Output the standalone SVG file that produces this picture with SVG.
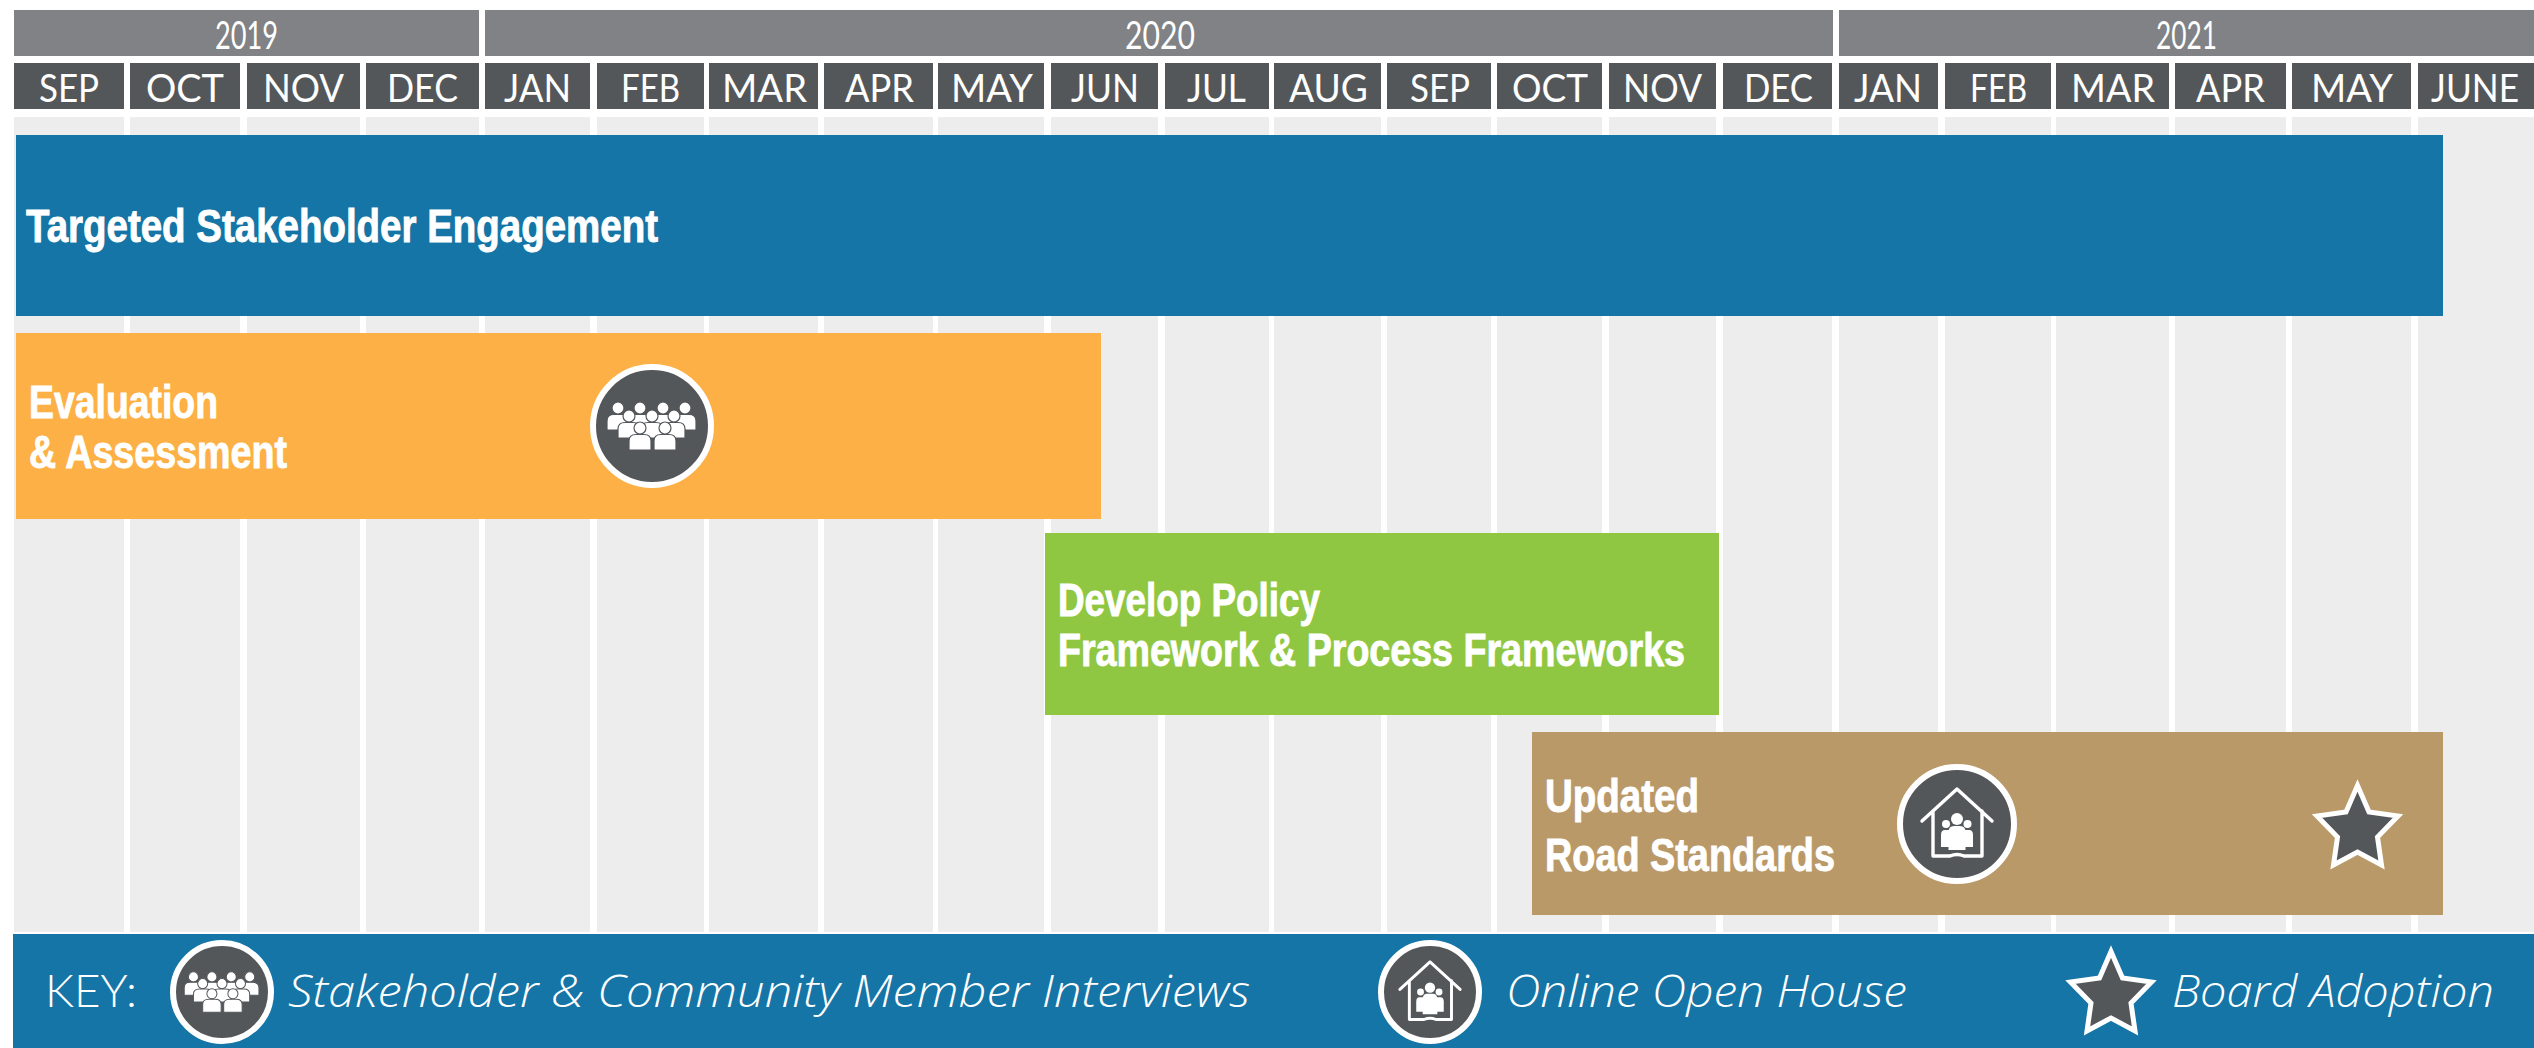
<svg xmlns="http://www.w3.org/2000/svg" xmlns:xlink="http://www.w3.org/1999/xlink" width="2534" height="1048" viewBox="0 0 2534 1048">
<style>
text{fill:#fff;font-family:"Lato","Liberation Sans",sans-serif}
.yr{fill:#808285}.mo{fill:#54575a}.col{fill:#ededed}
.ytx{font-size:38px;font-weight:400}
.mtx{font-size:39px;font-weight:400}
.bar{font-family:"Liberation Sans Narrow","Liberation Sans",sans-serif;font-size:46px;font-weight:700;stroke:#fff;stroke-width:.9}
.key{font-family:"Open Sans","Liberation Sans",sans-serif;font-size:45px;font-style:italic;font-weight:300}
.disc{fill:#54575a;stroke:#fff;stroke-width:6}
.star{fill:#54575a;stroke:#fff;stroke-width:5;stroke-miterlimit:10}
.w{fill:#fff}.ws{fill:#fff;stroke:#54575a;stroke-width:1.2}
.hs{fill:none;stroke:#fff;stroke-width:3.4;stroke-linecap:round;stroke-linejoin:round}
</style>
<defs>
<g id="p"><circle cx="0" cy="0" r="6" class="ws"/><path d="M-11 22V13Q-11 6.500 -4 6.500H4Q11 6.500 11 13V22Z" class="ws"/></g>
<g id="crowd">
<use xlink:href="#p" href="#p" x="-34" y="-18"/><use xlink:href="#p" href="#p" x="-12" y="-18"/><use xlink:href="#p" href="#p" x="11" y="-18"/><use xlink:href="#p" href="#p" x="33" y="-18"/>
<use xlink:href="#p" href="#p" x="-23" y="-10"/><use xlink:href="#p" href="#p" x="0" y="-10"/><use xlink:href="#p" href="#p" x="22" y="-10"/>
<use xlink:href="#p" href="#p" x="-12" y="2"/><use xlink:href="#p" href="#p" x="13" y="2"/>
</g>
<g id="house">
<path class="hs" d="M-35 -3L0 -35L35 -3M-24 -13V32H-7M7 32H25V-13M-7 32Q0 29 7 32"/>
<circle cx="-11" cy="0" r="4" class="w"/><path class="w" d="M-16 23V11Q-16 6 -12 6H-8V23Z"/>
<circle cx="10.500" cy="0" r="4" class="w"/><path class="w" d="M16 23V11Q16 6 12 6H8V23Z"/>
<circle cx="0" cy="-5" r="6" class="w"/><path class="w" d="M-8.500 26V8Q-8.500 2 -3 2H3Q8.500 2 8.500 8V26Z"/>
</g>
<polygon id="star" class="star" points="0,3.500 11.500,30 40.500,34 20,55 24,83 0,70 -24,83 -20,55 -40.500,34 -11.500,30"/>
</defs>
<rect width="2534" height="1048" fill="#fff"/>
<g id="columns" class="col">
<rect x="14" y="117" width="110" height="815"/><rect x="130" y="117" width="110" height="815"/><rect x="247" y="117" width="113" height="815"/><rect x="366" y="117" width="113" height="815"/>
<rect x="485" y="117" width="105" height="815"/><rect x="597" y="117" width="107" height="815"/><rect x="709" y="117" width="109" height="815"/><rect x="824" y="117" width="109" height="815"/>
<rect x="938" y="117" width="106" height="815"/><rect x="1051" y="117" width="107" height="815"/><rect x="1165" y="117" width="104" height="815"/><rect x="1274" y="117" width="107" height="815"/>
<rect x="1387" y="117" width="104" height="815"/><rect x="1497" y="117" width="105" height="815"/><rect x="1609" y="117" width="107" height="815"/><rect x="1723" y="117" width="109" height="815"/>
<rect x="1839" y="117" width="99" height="815"/><rect x="1945" y="117" width="106" height="815"/><rect x="2056" y="117" width="113" height="815"/><rect x="2175" y="117" width="111" height="815"/>
<rect x="2292" y="117" width="119" height="815"/><rect x="2418" y="117" width="116" height="815"/>
</g>
<g id="years">
<rect class="yr" x="14" y="10" width="465" height="46"/><rect class="yr" x="485" y="10" width="1348" height="46"/><rect class="yr" x="1839" y="10" width="695" height="46"/>
<text class="ytx" x="215" y="49" textLength="63" lengthAdjust="spacingAndGlyphs">2019</text>
<text class="ytx" x="1125" y="49" textLength="70" lengthAdjust="spacingAndGlyphs">2020</text>
<text class="ytx" x="2156" y="49" textLength="61" lengthAdjust="spacingAndGlyphs">2021</text>
</g>
<g id="months">
<g class="mo"><rect x="14" y="63" width="110" height="46"/><rect x="130" y="63" width="110" height="46"/><rect x="247" y="63" width="113" height="46"/><rect x="366" y="63" width="113" height="46"/>
<rect x="485" y="63" width="105" height="46"/><rect x="597" y="63" width="107" height="46"/><rect x="709" y="63" width="109" height="46"/><rect x="824" y="63" width="109" height="46"/>
<rect x="938" y="63" width="106" height="46"/><rect x="1051" y="63" width="107" height="46"/><rect x="1165" y="63" width="104" height="46"/><rect x="1274" y="63" width="107" height="46"/>
<rect x="1387" y="63" width="104" height="46"/><rect x="1497" y="63" width="105" height="46"/><rect x="1609" y="63" width="107" height="46"/><rect x="1723" y="63" width="109" height="46"/>
<rect x="1839" y="63" width="99" height="46"/><rect x="1945" y="63" width="106" height="46"/><rect x="2056" y="63" width="113" height="46"/><rect x="2175" y="63" width="111" height="46"/>
<rect x="2292" y="63" width="119" height="46"/><rect x="2418" y="63" width="116" height="46"/></g>
<text class="mtx" y="102" x="39" textLength="60" lengthAdjust="spacingAndGlyphs">SEP</text>
<text class="mtx" y="102" x="146" textLength="78" lengthAdjust="spacingAndGlyphs">OCT</text>
<text class="mtx" y="102" x="263" textLength="81" lengthAdjust="spacingAndGlyphs">NOV</text>
<text class="mtx" y="102" x="387" textLength="71" lengthAdjust="spacingAndGlyphs">DEC</text>
<text class="mtx" y="102" x="504" textLength="67" lengthAdjust="spacingAndGlyphs">JAN</text>
<text class="mtx" y="102" x="621" textLength="59" lengthAdjust="spacingAndGlyphs">FEB</text>
<text class="mtx" y="102" x="722" textLength="85" lengthAdjust="spacingAndGlyphs">MAR</text>
<text class="mtx" y="102" x="845" textLength="69" lengthAdjust="spacingAndGlyphs">APR</text>
<text class="mtx" y="102" x="951" textLength="82" lengthAdjust="spacingAndGlyphs">MAY</text>
<text class="mtx" y="102" x="1071" textLength="68" lengthAdjust="spacingAndGlyphs">JUN</text>
<text class="mtx" y="102" x="1187" textLength="59" lengthAdjust="spacingAndGlyphs">JUL</text>
<text class="mtx" y="102" x="1289" textLength="79" lengthAdjust="spacingAndGlyphs">AUG</text>
<text class="mtx" y="102" x="1410" textLength="60" lengthAdjust="spacingAndGlyphs">SEP</text>
<text class="mtx" y="102" x="1512" textLength="76" lengthAdjust="spacingAndGlyphs">OCT</text>
<text class="mtx" y="102" x="1623" textLength="79" lengthAdjust="spacingAndGlyphs">NOV</text>
<text class="mtx" y="102" x="1744" textLength="69" lengthAdjust="spacingAndGlyphs">DEC</text>
<text class="mtx" y="102" x="1854" textLength="68" lengthAdjust="spacingAndGlyphs">JAN</text>
<text class="mtx" y="102" x="1970" textLength="57" lengthAdjust="spacingAndGlyphs">FEB</text>
<text class="mtx" y="102" x="2071" textLength="84" lengthAdjust="spacingAndGlyphs">MAR</text>
<text class="mtx" y="102" x="2196" textLength="69" lengthAdjust="spacingAndGlyphs">APR</text>
<text class="mtx" y="102" x="2311" textLength="82" lengthAdjust="spacingAndGlyphs">MAY</text>
<text class="mtx" y="102" x="2431" textLength="88" lengthAdjust="spacingAndGlyphs">JUNE</text>
</g>
<g id="bar-engagement">
<rect x="16" y="135" width="2427" height="181" fill="#1475a6"/>
<text class="bar" x="26" y="242" textLength="632" lengthAdjust="spacingAndGlyphs">Targeted Stakeholder Engagement</text>
</g>
<g id="bar-evaluation">
<rect x="16" y="333" width="1085" height="186" fill="#fdb045"/>
<text class="bar" x="29" y="418" textLength="189" lengthAdjust="spacingAndGlyphs">Evaluation</text>
<text class="bar" x="29" y="468" textLength="258" lengthAdjust="spacingAndGlyphs">&amp; Assessment</text>
<circle class="disc" cx="652" cy="426" r="59"/>
<use xlink:href="#crowd" href="#crowd" x="652" y="426"/>
</g>
<g id="bar-policy">
<rect x="1045" y="533" width="674" height="182" fill="#90c742"/>
<text class="bar" x="1058" y="616" textLength="262" lengthAdjust="spacingAndGlyphs">Develop Policy</text>
<text class="bar" x="1058" y="666" textLength="627" lengthAdjust="spacingAndGlyphs">Framework &amp; Process Frameworks</text>
</g>
<g id="bar-standards">
<rect x="1532" y="732" width="911" height="183" fill="#ba9968"/>
<text class="bar" x="1545" y="812" textLength="154" lengthAdjust="spacingAndGlyphs">Updated</text>
<text class="bar" x="1545" y="871" textLength="290" lengthAdjust="spacingAndGlyphs">Road Standards</text>
<circle class="disc" cx="1957" cy="824" r="57"/>
<use xlink:href="#house" href="#house" x="1957" y="824"/>
<use xlink:href="#star" href="#star" x="2357.500" y="782"/>
</g>
<g id="key">
<rect x="13" y="934" width="2521" height="114" fill="#1475a6"/>
<text x="45" y="1007" font-size="45" font-weight="300" textLength="92" lengthAdjust="spacingAndGlyphs">KEY:</text>
<circle class="disc" cx="222" cy="992" r="49"/>
<use xlink:href="#crowd" href="#crowd" transform="translate(222 992) scale(.84)"/>
<text class="key" x="288" y="1007" textLength="962" lengthAdjust="spacingAndGlyphs">Stakeholder &amp; Community Member Interviews</text>
<circle class="disc" cx="1430" cy="992" r="49"/>
<use xlink:href="#house" href="#house" transform="translate(1430 992) scale(.86)"/>
<text class="key" x="1506" y="1007" textLength="401" lengthAdjust="spacingAndGlyphs">Online Open House</text>
<use xlink:href="#star" href="#star" x="2111" y="948"/>
<text class="key" x="2172" y="1007" textLength="322" lengthAdjust="spacingAndGlyphs">Board Adoption</text>
</g>
</svg>
